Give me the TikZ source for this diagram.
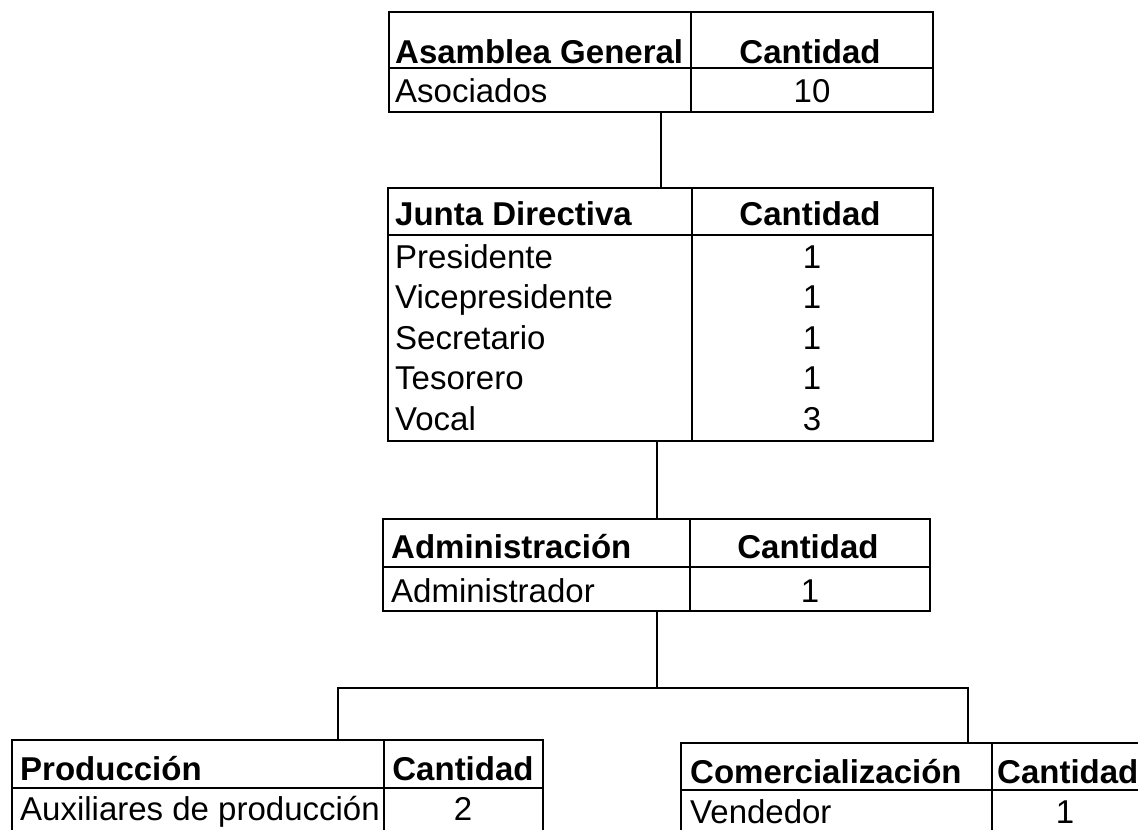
\documentclass[tikz,border=0pt]{standalone}
\usepackage{fontspec}
\setmainfont{Liberation Sans}
\tikzset{
  frame/.style={draw, rectangle, line width=2.3pt, inner sep=0pt, outer sep=0pt},
  rule/.style={line width=2.3pt},
  link/.style={line width=2.3pt},
  hd/.style={font=\fontsize{33}{36}\selectfont\bfseries, inner sep=0pt, anchor=base west},
  hdc/.style={font=\fontsize{33}{36}\selectfont\bfseries, inner sep=0pt, anchor=base},
  tx/.style={font=\fontsize{33}{36}\selectfont, inner sep=0pt, anchor=base west},
  num/.style={font=\fontsize{33}{36}\selectfont, inner sep=0pt, anchor=base},
}
\begin{document}
\begin{tikzpicture}[x=1pt,y=-1pt]
\useasboundingbox (0,0) rectangle (1138,830);
\clip (0,0) rectangle (1138,830);

% ---- Asamblea General ----
\node[frame, minimum width=544pt, minimum height=100pt] (t1) at (661,62) {};
\draw[rule] (389,68) -- (933,68);
\draw[rule] (691,12) -- (691,112);
\node[hd]  (t1h1) at (395,63) {Asamblea General};
\node[hdc] (t1h2) at (810,63) {Cantidad};
\node[tx]  (t1r1) at (395,102) {Asociados};
\node[num] (t1v1) at (812,102) {10};

% ---- Junta Directiva ----
\node[frame, minimum width=545pt, minimum height=253pt] (t2) at (660.5,314.5) {};
\draw[rule] (388,235) -- (933,235);
\draw[rule] (692,188) -- (692,441);
\node[hd]  (t2h1) at (395,225) {Junta Directiva};
\node[hdc] (t2h2) at (810,225) {Cantidad};
\node[tx]  (t2r1) at (395,268) {Presidente};
\node[tx]  (t2r2) at (395,308.5) {Vicepresidente};
\node[tx]  (t2r3) at (395,349) {Secretario};
\node[tx]  (t2r4) at (395,389.5) {Tesorero};
\node[tx]  (t2r5) at (395,430) {Vocal};
\node[num] (t2v1) at (812,268) {1};
\node[num] (t2v2) at (812,308.5) {1};
\node[num] (t2v3) at (812,349) {1};
\node[num] (t2v4) at (812,389.5) {1};
\node[num] (t2v5) at (812,430) {3};

% ---- Administracion ----
\node[frame, minimum width=547pt, minimum height=92pt] (t3) at (656.5,565) {};
\draw[rule] (383,567) -- (930,567);
\draw[rule] (690,519) -- (690,611);
\node[hd]  (t3h1) at (391,558) {Administración};
\node[hdc] (t3h2) at (808,558) {Cantidad};
\node[tx]  (t3r1) at (391,602) {Administrador};
\node[num] (t3v1) at (810,602) {1};

% ---- Produccion ----
\node[frame, minimum width=531pt, minimum height=120pt] (t4) at (277.5,800) {};
\draw[rule] (12,788) -- (543,788);
\draw[rule] (384,740) -- (384,860);
\node[hd]  (t4h1) at (20,780) {Producción};
\node[hdc] (t4h2) at (463,780) {Cantidad};
\node[tx]  (t4r1) at (20,820) {Auxiliares de producción};
\node[num] (t4v1) at (463,820) {2};

% ---- Comercializacion ----
\node[frame, minimum width=469pt, minimum height=117pt] (t5) at (915.5,801.5) {};
\draw[rule] (681,790) -- (1150,790);
\draw[rule] (992,743) -- (992,860);
\node[hd]  (t5h1) at (690,783) {Comercialización};
\node[hd]  (t5h2) at (997,783) {Cantidad};
\node[tx]  (t5r1) at (690,823) {Vendedor};
\node[num] (t5v1) at (1065,823) {1};

% ---- connectors ----
\coordinate (hub) at (657,688);
\coordinate (pl) at (338,688);
\coordinate (pr) at (968,688);
\draw[link] (t1.south) -- (t1.south |- t2.north);
\draw[link] (t2.south -| hub) -- (t3.north -| hub);
\draw[link] (t3.south -| hub) -- (hub);
\draw[link] (pl |- t4.north) -- (pl) -- (pr) -- (pr |- t5.north);
\end{tikzpicture}
\end{document}
